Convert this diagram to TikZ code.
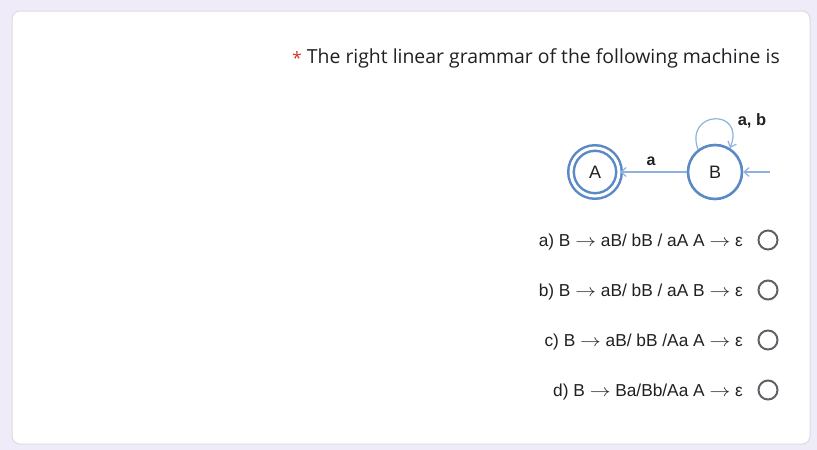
\documentclass[tikz,border=0pt]{standalone}
\usepackage{fontspec}
\usepackage{graphicx}
\setmainfont{Liberation Sans}
\newfontfamily\titlefont{Open Sans}
\usetikzlibrary{arrows.meta}
\definecolor{bgl}{HTML}{F0EBF8}
\definecolor{cardline}{HTML}{DADCE0}
\definecolor{stblue}{HTML}{5A8AC6}
\definecolor{ltblue}{HTML}{8FB2DD}
\definecolor{radiog}{HTML}{5F6368}
\definecolor{txt}{HTML}{202124}
\definecolor{req}{HTML}{D93025}
\newcommand{\ar}{\scalebox{1.2}[1]{$\rightarrow$}}
\tikzset{
  state/.style={circle,draw=stblue,line width=2.6pt,minimum size=54pt,inner sep=0pt,font=\fontsize{18}{20}\selectfont,text=txt},
  accept/.style={state,double=white,double distance=3pt,line width=2.5pt,minimum size=48pt},
  trans/.style={draw=ltblue,line width=1.2pt,-{Straight Barb[length=5pt,width=9pt]}},
  opt/.style={anchor=base east,font=\fontsize{17.3}{20}\selectfont,text=txt,inner sep=0pt},
  radio/.style={circle,draw=radiog,line width=2pt,minimum size=19pt,inner sep=0pt}
}
\begin{document}
\begin{tikzpicture}[x=1pt,y=-1pt]
\useasboundingbox (0,0) rectangle (817,450);
\fill[bgl] (0,0) rectangle (817,450);
\draw[cardline,fill=white,line width=1pt,rounded corners=8pt] (12,11) rectangle (810,444);
\node[anchor=base east,inner sep=0pt,font=\titlefont\fontsize{19.4}{22}\selectfont,text=txt] (title) at (780,63) {The right linear grammar of the following machine is};
\node[anchor=base east,inner sep=0pt,font=\titlefont\fontsize{17}{20}\selectfont,text=req] (star) at (302,64) {*};
% automaton
\node[accept] (A) at (595,172) {A};
\node[state] (B) at (715,172) {B};
\coordinate (start) at (770,172);
\draw[trans] (B) -- (A);
\node[font=\fontsize{16}{18}\selectfont\bfseries,text=txt] (la) at (651,161) {a};
\draw[trans] (start) -- (B);
\draw[trans] (B.127) .. controls (684,110) and (746,108) .. (B.58);
\node[font=\fontsize{16.5}{18}\selectfont\bfseries,text=txt] (lab) at (752,121) {a, b};
% options
\node[opt] (oa) at (743,246) {a) B \ar{} aB/ bB / aA A \ar{} ε};
\node[opt] (ob) at (743,296) {b) B \ar{} aB/ bB / aA B \ar{} ε};
\node[opt] (oc) at (743,346) {c) B \ar{} aB/ bB /Aa A \ar{} ε};
\node[opt] (od) at (743,396) {d) B \ar{} Ba/Bb/Aa A \ar{} ε};
\node[radio] (ra) at (768,240) {};
\node[radio] (rb) at (768,290) {};
\node[radio] (rc) at (768,340) {};
\node[radio] (rd) at (768,390) {};
\end{tikzpicture}
\end{document}
